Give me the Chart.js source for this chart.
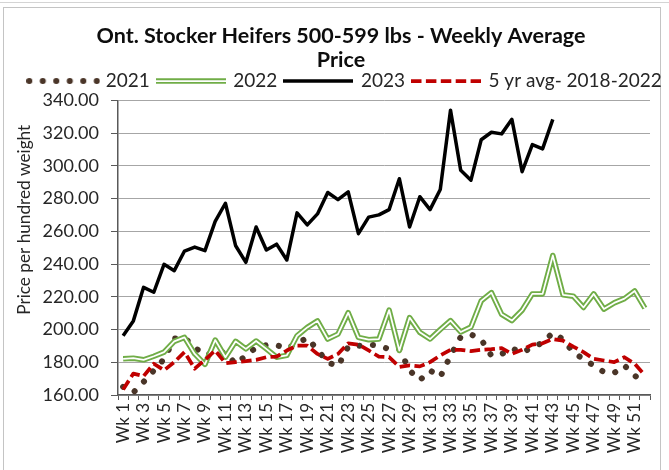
<!DOCTYPE html>
<html>
<head>
<meta charset="utf-8">
<script src="https://cdn.jsdelivr.net/npm/chart.js@4.4.0/dist/chart.umd.min.js"></script>
<style>
  html, body { margin: 0; padding: 0; background: #ffffff; }
  #wrap { position: relative; width: 669px; height: 470px; overflow: hidden; }
  .topline { position: absolute; left: 0; top: 2px; width: 669px; height: 0; border-top: 1px solid #d4d4d4; }
  .frame { position: absolute; left: 3px; top: 7px; width: 656px; height: 480px; border: 1px solid #c4c4c4; }
  canvas { position: absolute; left: 0; top: 0; }
</style>
</head>
<body>
<div id="wrap">
  <div class="topline"></div>
  <div class="frame"></div>
  <canvas id="chart" width="669" height="470"></canvas>
</div>
<script>
// ── DATA ──
const weeks = [
  'Wk 1','Wk 2','Wk 3','Wk 4','Wk 5','Wk 6','Wk 7','Wk 8','Wk 9','Wk 10',
  'Wk 11','Wk 12','Wk 13','Wk 14','Wk 15','Wk 16','Wk 17','Wk 18','Wk 19','Wk 20',
  'Wk 21','Wk 22','Wk 23','Wk 24','Wk 25','Wk 26','Wk 27','Wk 28','Wk 29','Wk 30',
  'Wk 31','Wk 32','Wk 33','Wk 34','Wk 35','Wk 36','Wk 37','Wk 38','Wk 39','Wk 40',
  'Wk 41','Wk 42','Wk 43','Wk 44','Wk 45','Wk 46','Wk 47','Wk 48','Wk 49','Wk 50',
  'Wk 51','Wk 52'
];

const price2021 = [
  165, 161.5, 168, 175, 182, 194.5, 195, 189, 184.5, 186,
  186, 179, 184, 189, 190.5, 190.5, 188.5, 191.5, 195, 187.5,
  180, 177.5, 189.5, 190, 191, 190, 188, 188, 175, 169,
  175, 171, 184, 195.5, 197, 194, 184, 185, 188.5, 186,
  189, 192, 198, 194, 186, 182, 178, 174, 173.5, 178,
  172, 166
];

const price2022 = [
  182.1, 182.5, 181.5, 183.7, 186.2, 192.8, 195.2, 185.1, 178.7, 193.6,
  183.1, 192.8, 188.2, 193, 188.2, 183.1, 184.2, 196.2, 201.3, 205.3,
  194.2, 197.2, 210.3, 195.2, 193.8, 194.2, 211.9, 187.2, 207.3, 198.3,
  194.2, 200, 205.5, 198.5, 201.5, 217.5, 222.6, 209.3, 205.5, 211.8,
  221.8, 221.8, 245.3, 221.2, 220.4, 213.5, 221.8, 212.5, 216.3, 218.9,
  223.6, 213.1
];

const price2023 = [
  196.2, 205.3, 225.8, 222.8, 239.9, 236, 248, 250.4, 248.2, 266.1,
  277.2, 251.2, 241.1, 262.7, 248.6, 252.2, 242.5, 271.3, 264, 270.7,
  283.8, 279.4, 284.2, 258.6, 268.7, 270.1, 273.3, 292.2, 262.7, 281.2,
  273.3, 285.6, 334.1, 297.3, 291.3, 316, 320.6, 319.6, 328.5, 296.5,
  313, 310.4, 328.5, null, null, null, null, null, null, null,
  null, null
];

const avg5yr = [
  163.4, 173.1, 171.5, 179.1, 175.1, 180.1, 186.2, 176.1, 181.5, 187.2,
  179.5, 180.1, 180.7, 181.5, 183.1, 183.5, 187.2, 190.2, 190.2, 185.1,
  182.1, 185.1, 191.6, 190.8, 187.2, 183.5, 183.1, 177.1, 178.1, 177.5,
  180.1, 184.2, 187.6, 187.6, 186.8, 187.6, 188, 188.6, 185.1, 187.6,
  190.8, 191.6, 194.2, 193.2, 189.6, 186.2, 182.1, 181.1, 180.1, 183.1,
  179.1, 172.1
];

const yTicks = { min: 160, max: 340, step: 20 };
const titleLines = ['Ont. Stocker Heifers 500-599 lbs - Weekly Average', 'Price'];
const yTitle = 'Price per hundred weight';

// ── COLOURS ──
const C_2021 = '#4a3528';
const C_2022 = '#70ad47';
const C_2023 = '#000000';
const C_AVG  = '#c00000';
const TXT    = '#262626';
const AXIS   = '#595959';

const DOTS = [0.1, 13.4];
const DASH = [10.5, 4.4];

// ── LEGEND ICONS ──
function icon(w, draw) {
  const c = document.createElement('canvas');
  c.width = w; c.height = 12;
  const g = c.getContext('2d');
  draw(g, w);
  return c;
}
function seg(g, w, color, width, dash, cap) {
  g.beginPath();
  g.strokeStyle = color;
  g.lineWidth = width;
  g.lineCap = cap || 'butt';
  g.setLineDash(dash || []);
  g.moveTo(cap === 'round' ? 3 : 0, 6);
  g.lineTo(w, 6);
  g.stroke();
}
const icons = [
  icon(74, (g, w) => seg(g, w, C_2021, 6, DOTS, 'round')),
  icon(70, (g, w) => { seg(g, w, C_2022, 5.5); seg(g, w, '#ffffff', 1.75); }),
  icon(70, (g, w) => seg(g, w, C_2023, 3.5)),
  icon(70, (g, w) => seg(g, w, C_AVG, 3.75, DASH))
];

// ── LINE STYLE HELPER ──
function ls(color, width, order, dash, cap) {
  return {
    borderColor: color,
    backgroundColor: 'transparent',
    borderWidth: width,
    borderDash: dash || [],
    borderCapStyle: cap || 'butt',
    borderJoinStyle: 'round',
    pointRadius: 0,
    pointHoverRadius: 0,
    tension: 0,
    spanGaps: false,
    order: order
  };
}

// shifts title + legend sideways, as in the source sheet
const shiftBlocks = {
  id: 'shiftBlocks',
  afterLayout(chart) {
    if (chart.titleBlock) { chart.titleBlock.left += 16; chart.titleBlock.right += 16; }
    if (chart.legend) { chart.legend.left += 21; chart.legend.right += 21; }
  }
};

// y title sits above the middle of the axis in the source
function liftTitle(s) {
  if (s._lifted) return;
  s._lifted = true;
  const draw = s.drawTitle;
  s.drawTitle = function () {
    const t = this.top, b = this.bottom;
    this.top -= 28; this.bottom -= 28;
    draw.call(this);
    this.top = t; this.bottom = b;
  };
}

const font = (size, weight) => ({ family: 'Lato', size, weight: weight || 'normal' });

new Chart(document.getElementById('chart').getContext('2d'), {
  type: 'line',
  data: {
    labels: weeks,
    datasets: [
      { label: '2021', data: price2021, ...ls(C_2021, 6, 4, DOTS, 'round') },
      { label: '2022', data: price2022, ...ls(C_2022, 5.5, 3) },
      { label: '', data: price2022, ...ls('#ffffff', 1.75, 2) },
      { label: '2023', data: price2023, ...ls(C_2023, 3.5, 1) },
      { label: '5 yr avg- 2018-2022', data: avg5yr, ...ls(C_AVG, 3.75, 0, DASH) }
    ]
  },
  options: {
    responsive: false,
    animation: false,
    devicePixelRatio: 1,
    layout: { padding: { left: 0, right: 19, top: 0, bottom: 0 } },
    plugins: {
      tooltip: { enabled: false },
      title: {
        display: true,
        text: titleLines,
        color: '#0d0d0d',
        font: { family: 'Lato', size: 21.5, weight: 'bold', lineHeight: '24px' },
        padding: { top: 24, bottom: -8.5 }
      },
      legend: {
        display: true,
        labels: {
          usePointStyle: true,
          pointStyleWidth: 66,
          padding: 8,
          color: TXT,
          font: font(19),
          generateLabels: chart => [0, 1, 3, 4].map((di, k) => ({
            text: chart.data.datasets[di].label,
            pointStyle: icons[k],
            fontColor: TXT,
            fillStyle: 'transparent',
            strokeStyle: 'transparent',
            lineWidth: 0,
            hidden: false,
            datasetIndex: di
          }))
        }
      }
    },
    scales: {
      x: {
        offset: true,
        ticks: {
          autoSkip: false,
          minRotation: 90,
          maxRotation: 90,
          padding: 3,
          color: TXT,
          font: font(17),
          callback: (v, i) => (i % 2 === 0 ? weeks[i] : '')
        },
        grid: { drawOnChartArea: false, offset: true, tickLength: 5, tickColor: AXIS },
        border: { color: AXIS, width: 1.5 },
        afterFit: s => { s.height = 75; }
      },
      y: {
        min: yTicks.min,
        max: yTicks.max,
        ticks: {
          stepSize: yTicks.step,
          padding: 12,
          color: TXT,
          font: font(18),
          callback: v => v.toFixed(2)
        },
        grid: { color: '#a6a6a6', lineWidth: 1, tickLength: 7, tickColor: AXIS },
        border: { color: AXIS, width: 1.5 },
        title: {
          display: true,
          text: yTitle,
          color: TXT,
          font: font(17.2),
          padding: { top: 14, bottom: 0 }
        },
        afterFit: s => { s.width = 118; liftTitle(s); }
      }
    }
  },
  plugins: [shiftBlocks]
});
</script>
</body>
</html>
